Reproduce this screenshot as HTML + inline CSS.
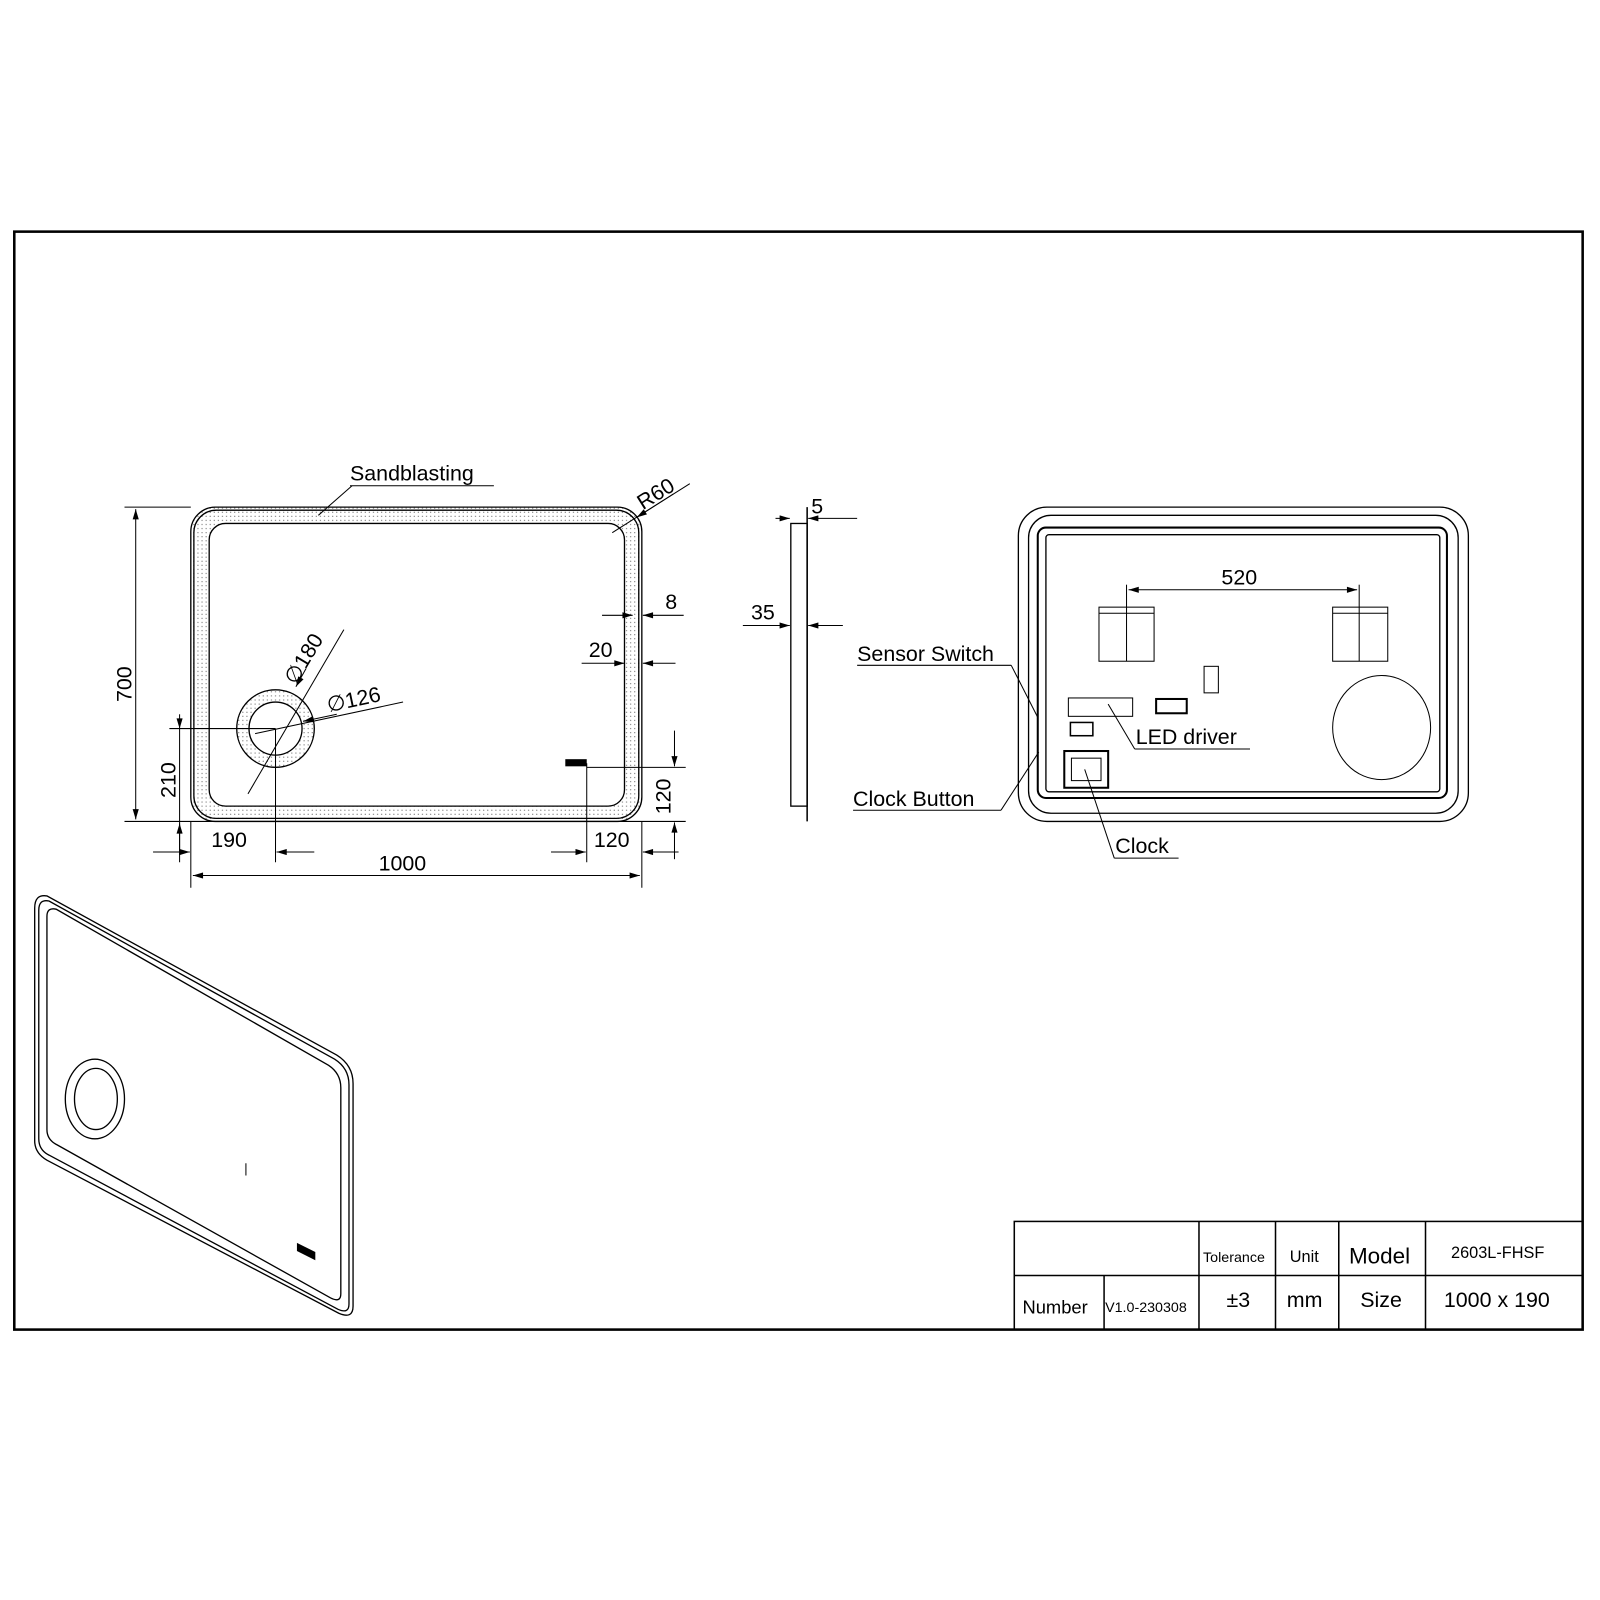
<!DOCTYPE html>
<html><head><meta charset="utf-8"><style>
html,body{margin:0;padding:0;background:#fff;}
svg{display:block;font-family:"Liberation Sans",Arial,sans-serif;}
</style></head><body>
<svg width="1600" height="1600" viewBox="0 0 1568 1568" xmlns="http://www.w3.org/2000/svg">
<defs>
<marker id="a" viewBox="0 0 10 6" refX="10" refY="3" markerWidth="14" markerHeight="6" markerUnits="userSpaceOnUse" orient="auto-start-reverse"><path d="M0,0L10,3L0,6z" fill="#000"/></marker>
<pattern id="dots" width="4" height="4" patternUnits="userSpaceOnUse"><circle cx="2" cy="2" r="0.6" fill="#666"/></pattern>
</defs>
<rect x="14" y="227" width="1537" height="1076" fill="none" stroke="#000" stroke-width="2.5"/>

<!-- FRONT VIEW -->
<g fill="none" stroke="#000" stroke-width="1.3">
<rect x="187" y="497" width="442" height="308" rx="24" fill="url(#dots)"/>
<rect x="190" y="500" width="436" height="302" rx="22"/>
<rect x="205" y="513" width="407" height="277" rx="16" fill="#fff"/>
<circle cx="270" cy="714" r="38" fill="url(#dots)"/>
<circle cx="270" cy="714" r="26" fill="#fff"/>
</g>
<rect x="554" y="744" width="21" height="7" fill="#000"/>
<g stroke="#000" stroke-width="1" fill="none">
<line x1="122" y1="497" x2="187" y2="497"/><line x1="122" y1="805" x2="672" y2="805"/>
<line x1="133" y1="499" x2="133" y2="803" marker-start="url(#a)" marker-end="url(#a)"/>
<line x1="166" y1="714" x2="270" y2="714"/>
<line x1="176" y1="714" x2="176" y2="845"/>
<line x1="176" y1="700" x2="176" y2="714" marker-end="url(#a)"/>
<line x1="176" y1="838" x2="176" y2="807" marker-end="url(#a)"/>
<line x1="270" y1="714" x2="270" y2="845"/>
<line x1="187" y1="805" x2="187" y2="870"/>
<line x1="150" y1="835" x2="186" y2="835" marker-end="url(#a)"/>
<line x1="308" y1="835" x2="271" y2="835" marker-end="url(#a)"/>
<line x1="629" y1="805" x2="629" y2="870"/>
<line x1="189" y1="858" x2="627" y2="858" marker-start="url(#a)" marker-end="url(#a)"/>
<line x1="575" y1="748" x2="575" y2="845"/>
<line x1="540" y1="835" x2="574" y2="835" marker-end="url(#a)"/>
<line x1="665" y1="835" x2="630" y2="835" marker-end="url(#a)"/>
<line x1="575" y1="752" x2="672" y2="752"/>
<line x1="661" y1="716" x2="661" y2="751" marker-end="url(#a)"/>
<line x1="661" y1="842" x2="661" y2="806" marker-end="url(#a)"/>
<line x1="590" y1="603" x2="620" y2="603" marker-end="url(#a)"/>
<line x1="670" y1="603" x2="630" y2="603" marker-end="url(#a)"/>
<line x1="570" y1="650" x2="612" y2="650" marker-end="url(#a)"/>
<line x1="662" y1="650" x2="630" y2="650" marker-end="url(#a)"/>
<line x1="600" y1="522" x2="676" y2="474"/>
<line x1="660" y1="484" x2="624" y2="507" marker-end="url(#a)"/>
<line x1="343" y1="476" x2="484" y2="476"/><line x1="345" y1="476" x2="312" y2="505"/>
<line x1="243" y1="778" x2="337" y2="617"/>
<line x1="300" y1="655" x2="290" y2="673" marker-end="url(#a)"/>
<line x1="250" y1="719" x2="395" y2="688"/>
<line x1="330" y1="700" x2="297" y2="707" marker-end="url(#a)"/>
</g>
<g font-size="21" fill="#000">
<text x="343" y="471">Sandblasting</text>
<text x="371" y="853">1000</text>
<text x="207" y="830">190</text>
<text x="582" y="830">120</text>
<text x="652" y="597">8</text>
<text x="577" y="644">20</text>
<text transform="translate(129,688) rotate(-90)">700</text>
<text transform="translate(172,782) rotate(-90)">210</text>
<text transform="translate(657,798) rotate(-90)">120</text>
<text transform="translate(630,500) rotate(-32)">R60</text>
<text transform="translate(290,672) rotate(-59)">∅180</text>
<text transform="translate(322,698) rotate(-12)">∅126</text>
</g>

<!-- SIDE VIEW -->
<g stroke="#000" stroke-width="1" fill="none">
<rect x="775" y="513" width="16" height="277" stroke-width="1.3"/>
<line x1="791" y1="497" x2="791" y2="805" stroke-width="1.5"/>
<line x1="760" y1="508" x2="774" y2="508" marker-end="url(#a)"/>
<line x1="840" y1="508" x2="792" y2="508" marker-end="url(#a)"/>
<line x1="728" y1="613" x2="774" y2="613" marker-end="url(#a)"/>
<line x1="826" y1="613" x2="792" y2="613" marker-end="url(#a)"/>
</g>
<g font-size="21"><text x="795" y="503">5</text><text x="736" y="607">35</text></g>

<!-- BACK VIEW -->
<g stroke="#000" fill="none" stroke-width="1.3">
<rect x="998" y="497" width="441" height="308" rx="28"/>
<rect x="1008" y="505" width="421" height="292" rx="22"/>
<rect x="1017" y="517" width="401" height="265" rx="8" stroke-width="2"/>
<rect x="1025" y="524" width="386" height="252" rx="3"/>
<rect x="1077" y="595" width="54" height="53" stroke-width="1"/>
<rect x="1306" y="595" width="54" height="53" stroke-width="1"/>
<line x1="1077" y1="601" x2="1131" y2="601" stroke-width="1"/>
<line x1="1306" y1="601" x2="1360" y2="601" stroke-width="1"/>
<line x1="1104" y1="573" x2="1104" y2="648" stroke-width="1"/>
<line x1="1332" y1="573" x2="1332" y2="648" stroke-width="1"/>
<rect x="1180" y="653" width="14" height="26" stroke-width="1"/>
<rect x="1047" y="684" width="63" height="18" stroke-width="1"/>
<rect x="1133" y="685" width="30" height="14" stroke-width="2"/>
<rect x="1049" y="708" width="22" height="13" stroke-width="1.5"/>
<rect x="1043" y="736" width="43" height="36" stroke-width="2"/>
<rect x="1050" y="743" width="29" height="22" stroke-width="1"/>
<ellipse cx="1354" cy="713" rx="48" ry="51" stroke-width="1"/>
</g>
<g stroke="#000" stroke-width="1" fill="none">
<line x1="1106" y1="578" x2="1330" y2="578" marker-start="url(#a)" marker-end="url(#a)"/>
<line x1="840" y1="652" x2="991" y2="652"/><line x1="991" y1="652" x2="1017" y2="703"/>
<line x1="836" y1="794" x2="981" y2="794"/><line x1="981" y1="794" x2="1018" y2="737"/>
<line x1="1086" y1="690" x2="1112" y2="734"/><line x1="1112" y1="734" x2="1225" y2="734"/>
<line x1="1063" y1="754" x2="1092" y2="841"/><line x1="1092" y1="841" x2="1155" y2="841"/>
</g>
<g font-size="21"><text x="1197" y="573">520</text><text x="840" y="648">Sensor Switch</text>
<text x="836" y="790">Clock Button</text><text x="1113" y="729">LED driver</text><text x="1093" y="836">Clock</text></g>

<!-- ISO VIEW -->
<g stroke="#000" fill="none" stroke-width="1.3">
<path d="M34,890 Q34,876 46,878 L330,1034 Q346,1044 346,1062 L346,1280 Q346,1293 332,1287 L46,1137 Q34,1130 34,1118 Z"/>
<path d="M38,892 Q38,881 48,883 L328,1038 Q342,1047 342,1063 L342,1278 Q342,1288 331,1283 L48,1132 Q38,1127 38,1116 Z"/>
<path d="M46,898 Q46,889 55,891 L322,1044 Q334,1052 334,1066 L334,1268 Q334,1277 324,1272 L56,1122 Q46,1117 46,1107 Z"/>
<ellipse cx="93" cy="1077" rx="29" ry="39"/>
<ellipse cx="94" cy="1077" rx="21" ry="30"/>
</g>
<path d="M291,1218 L309,1227 L309,1235 L291,1226 Z" fill="#000"/>
<line x1="241" y1="1140" x2="241" y2="1152" stroke="#000"/>

<!-- TITLE BLOCK -->
<g stroke="#000" stroke-width="1.5" fill="none">
<rect x="994" y="1197" width="557" height="106"/>
<line x1="994" y1="1250" x2="1551" y2="1250"/>
<line x1="1082" y1="1250" x2="1082" y2="1303"/>
<line x1="1175" y1="1197" x2="1175" y2="1303"/>
<line x1="1250" y1="1197" x2="1250" y2="1303"/>
<line x1="1312" y1="1197" x2="1312" y2="1303"/>
<line x1="1397" y1="1197" x2="1397" y2="1303"/>
</g>
<g fill="#000">
<text x="1179" y="1237" font-size="14">Tolerance</text>
<text x="1264" y="1237" font-size="16">Unit</text>
<text x="1322" y="1238" font-size="22">Model</text>
<text x="1422" y="1233" font-size="16">2603L-FHSF</text>
<text x="1002" y="1287" font-size="18">Number</text>
<text x="1083" y="1286" font-size="14">V1.0-230308</text>
<text x="1202" y="1281" font-size="21">±3</text>
<text x="1261" y="1281" font-size="21">mm</text>
<text x="1333" y="1281" font-size="21">Size</text>
<text x="1415" y="1281" font-size="21">1000 x 190</text>
</g>
</svg>
</body></html>
